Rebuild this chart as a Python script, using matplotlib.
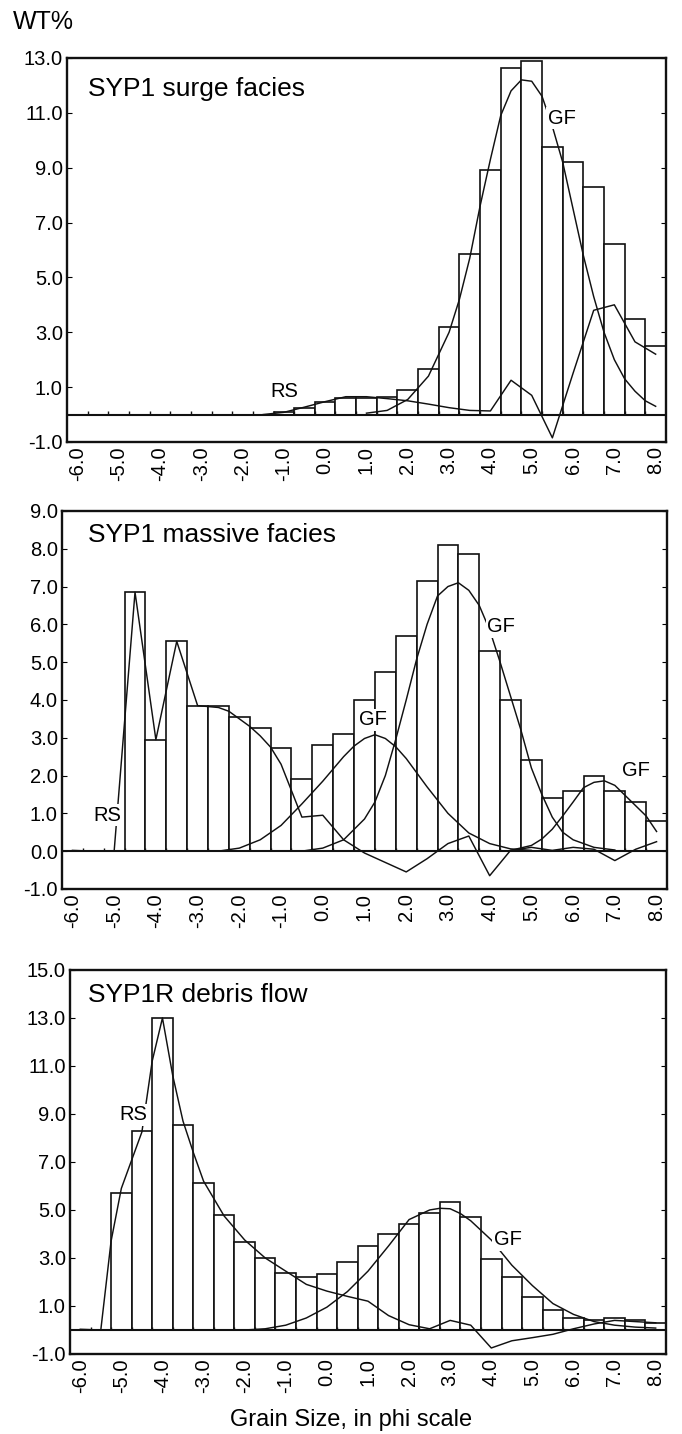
import matplotlib.pyplot as plt
import numpy as np

plt.rcParams['font.family'] = ['Liberation Sans', 'DejaVu Sans']
plt.rcParams['axes.unicode_minus'] = False

# grain size classes (phi), half-phi bins
phi = [-6.0, -5.5, -5.0, -4.5, -4.0, -3.5, -3.0, -2.5, -2.0, -1.5, -1.0, -0.5, 0.0, 0.5,
       1.0, 1.5, 2.0, 2.5, 3.0, 3.5, 4.0, 4.5, 5.0, 5.5, 6.0, 6.5, 7.0, 7.5, 8.0]
xtick_labels = ['-6.0', '-5.0', '-4.0', '-3.0', '-2.0', '-1.0', '0.0', '1.0', '2.0',
                '3.0', '4.0', '5.0', '6.0', '7.0', '8.0']

# SYP1 surge facies
surge_wt = [0, 0, 0, 0, 0, 0, 0, 0, 0, 0, 0.1, 0.22, 0.44, 0.62, 0.62, 0.64, 0.9, 1.65,
            3.2, 5.85, 8.9, 12.65, 12.9, 9.75, 9.2, 8.3, 6.2, 3.5, 2.5]
surge_rs_x = [-1.5, -1.0, -0.5, 0.0, 0.5, 1.0, 1.5, 2.0, 2.5, 3.0, 3.5, 4.0, 4.5, 5.0,
              5.5, 6.0, 6.5, 7.0, 7.5, 8.0]
surge_rs_y = [0.0, 0.08, 0.27, 0.47, 0.65, 0.65, 0.58, 0.5, 0.38, 0.25, 0.15, 0.13, 1.25,
              0.7, -0.85, 1.5, 3.8, 4.0, 2.65, 2.2]
surge_gf_x = [1.0, 1.5, 2.0, 2.5, 3.0, 3.25, 3.5, 3.75, 4.0, 4.25, 4.5, 4.75, 5.0, 5.25,
              5.5, 5.75, 6.0, 6.25, 6.5, 6.75, 7.0, 7.25, 7.5, 7.75, 8.0]
surge_gf_y = [0.05, 0.15, 0.55, 1.4, 3.0, 4.2, 5.7, 7.6, 9.3, 10.9, 11.8, 12.2, 12.15,
              11.6, 10.5, 9.2, 7.5, 5.8, 4.3, 3.0, 2.0, 1.3, 0.85, 0.5, 0.3]

# SYP1 massive facies
massive_wt = [0, 0, 0, 6.85, 2.95, 5.55, 3.85, 3.85, 3.55, 3.25, 2.72, 1.9, 2.8, 3.1,
              4.0, 4.75, 5.7, 7.15, 8.1, 7.85, 5.3, 4.0, 2.4, 1.4, 1.6, 2.0, 1.6, 1.3, 0.8]
massive_rs_x = [-6.0, -5.5, -5.0, -4.5, -4.0, -3.5, -3.0, -2.5, -2.25, -2.0, -1.75, -1.5,
                -1.25, -1.0, -0.75, -0.5, 0.0, 0.5, 1.0, 1.5, 2.0, 2.5, 3.0, 3.5, 4.0,
                4.5, 5.0, 5.5, 6.0, 6.5, 7.0, 7.5, 8.0]
massive_rs_y = [0.02, 0.0, 0.0, 6.85, 2.95, 5.55, 3.85, 3.8, 3.7, 3.5, 3.3, 3.05, 2.75,
                2.3, 1.6, 0.9, 0.95, 0.3, -0.05, -0.3, -0.55, -0.2, 0.2, 0.4, -0.65,
                0.02, 0.1, 0.02, 0.1, 0.05, -0.25, 0.05, 0.25]
massive_gf1_x = [-2.5, -2.0, -1.5, -1.0, -0.5, 0.0, 0.5, 0.75, 1.0, 1.25, 1.5, 1.75, 2.0,
                 2.5, 3.0, 3.5, 4.0, 4.5, 5.0]
massive_gf1_y = [0.0, 0.08, 0.3, 0.68, 1.25, 1.85, 2.5, 2.78, 2.98, 3.08, 2.98, 2.76,
                 2.45, 1.7, 1.0, 0.48, 0.2, 0.06, 0.02]
massive_gf2_x = [-0.5, 0.0, 0.5, 1.0, 1.25, 1.5, 1.75, 2.0, 2.25, 2.5, 2.75, 3.0, 3.25,
                 3.5, 3.75, 4.0, 4.25, 4.5, 4.75, 5.0, 5.25, 5.5, 5.75, 6.0, 6.5, 7.0]
massive_gf2_y = [0.0, 0.08, 0.3, 0.85, 1.3, 2.0, 2.96, 4.0, 5.08, 6.0, 6.75, 7.0, 7.1,
                 6.9, 6.5, 5.85, 5.0, 4.1, 3.2, 2.2, 1.5, 0.9, 0.5, 0.3, 0.1, 0.03]
massive_gf3_x = [4.5, 5.0, 5.25, 5.5, 5.75, 6.0, 6.25, 6.5, 6.75, 7.0, 7.25, 7.5, 7.75, 8.0]
massive_gf3_y = [0.02, 0.15, 0.32, 0.58, 0.93, 1.3, 1.68, 1.82, 1.86, 1.74, 1.47, 1.2,
                 0.93, 0.52]

# SYP1R debris flow
debris_wt = [0, 0, 5.72, 8.29, 13.0, 8.54, 6.11, 4.79, 3.68, 2.99, 2.36, 2.22, 2.33,
             2.83, 3.51, 3.98, 4.42, 4.89, 5.35, 4.7, 2.94, 2.22, 1.39, 0.83, 0.51, 0.42,
             0.49, 0.42, 0.3]
debris_rs_x = [-6.0, -5.5, -5.25, -5.0, -4.5, -4.25, -4.0, -3.75, -3.5, -3.25, -3.0, -2.5,
               -2.0, -1.5, -1.0, -0.5, 0.0, 0.5, 1.0, 1.5, 2.0, 2.5, 3.0, 3.5, 4.0, 4.5,
               5.0, 5.5, 6.0, 6.5, 7.0, 7.5, 8.0]
debris_rs_y = [0.03, 0.0, 3.7, 5.9, 8.25, 11.2, 13.0, 10.6, 8.7, 7.4, 6.2, 4.75, 3.75,
               3.0, 2.45, 1.9, 1.62, 1.4, 1.2, 0.6, 0.22, 0.05, 0.4, 0.2, -0.75, -0.45,
               -0.32, -0.18, 0.05, 0.25, 0.4, 0.35, 0.3]
debris_gf_x = [-2.0, -1.5, -1.0, -0.5, 0.0, 0.5, 1.0, 1.5, 2.0, 2.5, 2.75, 3.0, 3.25,
               3.5, 4.0, 4.5, 5.0, 5.5, 6.0, 6.5, 7.0, 7.5, 8.0]
debris_gf_y = [0.0, 0.05, 0.2, 0.5, 0.95, 1.6, 2.45, 3.5, 4.6, 5.0, 5.07, 5.05, 4.85,
               4.55, 3.75, 2.7, 1.85, 1.1, 0.65, 0.35, 0.2, 0.12, 0.08]

panels = [
    dict(pos=[0.0982, 0.6918, 0.8783, 0.2678], ylim=(-1, 13), yticks=[-1, 1, 3, 5, 7, 9, 11, 13],
         title='SYP1 surge facies', title_xy=(0.035, 0.92), wt=surge_wt,
         lines=[(surge_rs_x, surge_rs_y), (surge_gf_x, surge_gf_y)],
         labels=[('RS', -1.0, 0.85), ('GF', 5.72, 10.8)]),
    dict(pos=[0.0909, 0.3801, 0.8871, 0.2636], ylim=(-1, 9), yticks=list(range(-1, 10)),
         title='SYP1 massive facies', title_xy=(0.043, 0.937), wt=massive_wt,
         lines=[(massive_rs_x, massive_rs_y), (massive_gf1_x, massive_gf1_y),
                (massive_gf2_x, massive_gf2_y), (massive_gf3_x, massive_gf3_y)],
         labels=[('RS', -5.17, 0.95), ('GF', 1.2, 3.47), ('GF', 4.27, 5.93), ('GF', 7.51, 2.14)]),
    dict(pos=[0.1026, 0.0558, 0.8739, 0.2678], ylim=(-1, 15), yticks=[-1, 1, 3, 5, 7, 9, 11, 13, 15],
         title='SYP1R debris flow', title_xy=(0.03, 0.935), wt=debris_wt,
         lines=[(debris_rs_x, debris_rs_y), (debris_gf_x, debris_gf_y)],
         labels=[('RS', -4.70, 8.96), ('GF', 4.4, 3.75)]),
]

fig = plt.figure(figsize=(6.82, 14.34), dpi=100)

for p in panels:
    ax = fig.add_axes(p['pos'])
    ax.bar(phi, p['wt'], width=0.5, facecolor='white', edgecolor='#111111', linewidth=1.2, zorder=2)
    # little marks on the zero line at the bin edges
    edges = np.array(phi) + 0.25
    th = (p['ylim'][1] - p['ylim'][0]) * 0.008
    ax.vlines(edges[:-1], 0, th, color='#111111', linewidth=1.0, zorder=2)
    ax.axhline(0, color='#111111', linewidth=1.5, zorder=3)
    for xs, ys in p['lines']:
        ax.plot(xs, ys, color='#111111', linewidth=1.05, zorder=4)
    for txt, lx, ly in p['labels']:
        ax.text(lx, ly, txt, fontsize=14.5, ha='center', va='center', zorder=6,
                bbox=dict(facecolor='white', edgecolor='none', pad=1.0))
    ax.text(p['title_xy'][0], p['title_xy'][1], p['title'], transform=ax.transAxes,
            fontsize=19, ha='left', va='center')

    ax.set_xlim(-6.25, 8.25)
    ax.set_ylim(*p['ylim'])
    ax.set_xticks([float(t) for t in xtick_labels])
    ax.set_xticklabels(xtick_labels, rotation=90, fontsize=14.5)
    ax.set_yticks(p['yticks'])
    ax.set_yticklabels(['%.1f' % t for t in p['yticks']], fontsize=14.5)
    ax.tick_params(axis='x', length=0, pad=3)
    ax.tick_params(axis='y', direction='in', length=3.5, width=0.8, pad=3, right=True)
    for s in ax.spines.values():
        s.set_linewidth(1.7)
        s.set_color('#111111')

fig.text(13 / 682, 1 - 22 / 1434, 'WT%', fontsize=18, ha='left', va='center')
fig.text(351 / 682, 1 - 1420 / 1434, 'Grain Size, in phi scale', fontsize=17, ha='center', va='center')

fig.savefig('out.png', dpi=100)
